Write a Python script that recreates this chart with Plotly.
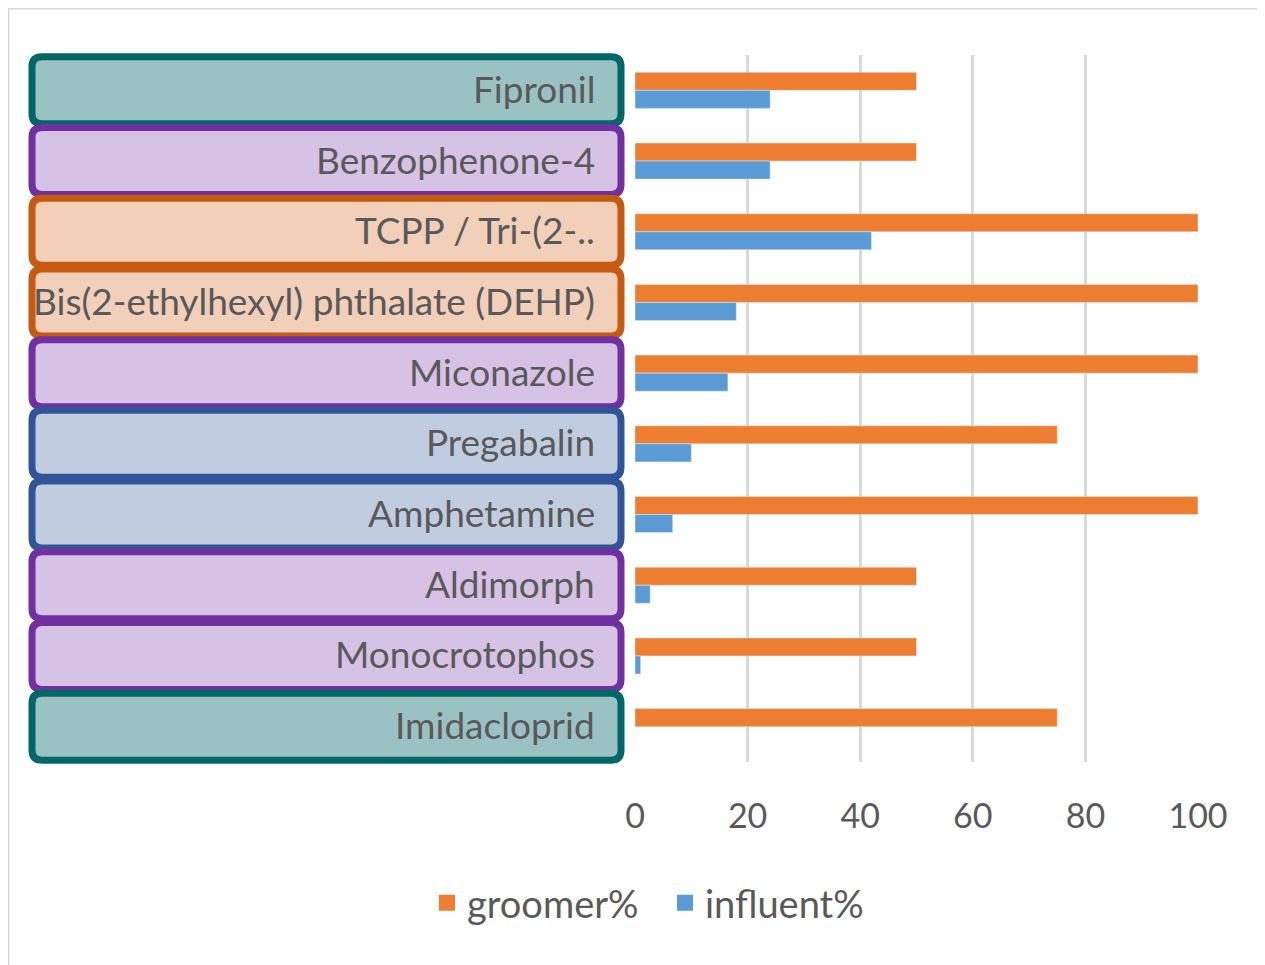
import plotly.graph_objects as go

categories = ["Fipronil", "Benzophenone-4", "TCPP / Tri-(2-..",
              "Bis(2-ethylhexyl) phthalate (DEHP)", "Miconazole", "Pregabalin",
              "Amphetamine", "Aldimorph", "Monocrotophos", "Imidacloprid"]
groomer = [50, 50, 100, 100, 100, 75, 100, 50, 50, 75]
influent = [24, 24, 42, 18, 16.5, 10, 6.7, 2.7, 1, 0]
groups = ["teal", "purple", "orange", "orange", "purple", "blue", "blue",
          "purple", "purple", "teal"]
series_names = ["groomer%", "influent%"]
series_colors = ["#ED7D31", "#5B9BD5"]

palette = {
    "teal": ("#9bc2c2", "#006666"),
    "purple": ("#d5c2e4", "#7030a0"),
    "orange": ("#f1cfb9", "#c55a11"),
    "blue": ("#c0cde1", "#2f5597"),
}

W, H = 1265, 965
L, R, T, B = 627, 75, 47, 211
pw, ph = W - L - R, H - T - B
FONT = "Lato"
TXT = "#595959"

fig = go.Figure()
for vals, name, col in zip([groomer, influent], series_names, series_colors):
    fig.add_trace(go.Bar(y=categories, x=vals, orientation="h", name=name,
                         marker_color=col, showlegend=False))
# legend-only entries with larger square swatches
for name, col in zip(series_names, series_colors):
    fig.add_trace(go.Scatter(x=[None], y=[None], mode="markers", name=name,
                             marker=dict(symbol="square", size=20, color=col)))

def px2paper_x(px):
    return (px - L) / pw

def px2paper_y(py):
    return (H - B - py) / ph

n = len(categories)
step = ph / n
shapes = []
annotations = []
for i, (cat, g) in enumerate(zip(categories, groups)):
    fill, line = palette[g]
    cy = T + step * (i + 0.5)
    x0, x1 = 24, 613
    y0, y1 = cy - 33.5, cy + 33.5
    r = 10

    def P(x, y):
        return f"{px2paper_x(x):.5f},{px2paper_y(y):.5f}"
    path = (f"M {P(x0 + r, y0)} L {P(x1 - r, y0)} Q {P(x1, y0)} {P(x1, y0 + r)} "
            f"L {P(x1, y1 - r)} Q {P(x1, y1)} {P(x1 - r, y1)} "
            f"L {P(x0 + r, y1)} Q {P(x0, y1)} {P(x0, y1 - r)} "
            f"L {P(x0, y0 + r)} Q {P(x0, y0)} {P(x0 + r, y0)} Z")
    shapes.append(dict(type="path", xref="paper", yref="paper", path=path,
                       fillcolor=fill, line=dict(color=line, width=7), layer="above"))
    annotations.append(dict(x=px2paper_x(589), y=cat, xref="paper", yref="y",
                            text=cat, showarrow=False, xanchor="right", yanchor="middle",
                            yshift=2,
                            font=dict(family=FONT, size=37, color=TXT)))

# outer frame
shapes.insert(0, dict(type="rect", xref="paper", yref="paper",
                      x0=px2paper_x(0), x1=px2paper_x(1320),
                      y0=px2paper_y(1020), y1=px2paper_y(0),
                      line=dict(color="#d9d9d9", width=3), fillcolor="rgba(0,0,0,0)",
                      layer="below"))

fig.update_layout(
    width=W, height=H,
    margin=dict(l=L, r=R, t=T, b=B, pad=0),
    paper_bgcolor="white", plot_bgcolor="white",
    barmode="group", bargap=0.49, bargroupgap=0,
    shapes=shapes, annotations=annotations,
    showlegend=True,
    legend=dict(orientation="h", x=px2paper_x(657), xanchor="center",
                y=px2paper_y(895), yanchor="middle",
                font=dict(family=FONT, size=38, color=TXT),
                traceorder="normal", itemwidth=30,
                entrywidth=193, entrywidthmode="pixels"),
    xaxis=dict(range=[0, 100], tickvals=[0, 20, 40, 60, 80, 100],
               showgrid=True, gridcolor="#d9d9d9", gridwidth=3,
               zeroline=False, showline=False,
               ticks="outside", ticklen=24, tickcolor="rgba(0,0,0,0)",
               tickfont=dict(family=FONT, size=34, color=TXT)),
    yaxis=dict(autorange="reversed", showticklabels=False, showgrid=False,
               zeroline=False, showline=False),
)

fig.write_html("out.html")
